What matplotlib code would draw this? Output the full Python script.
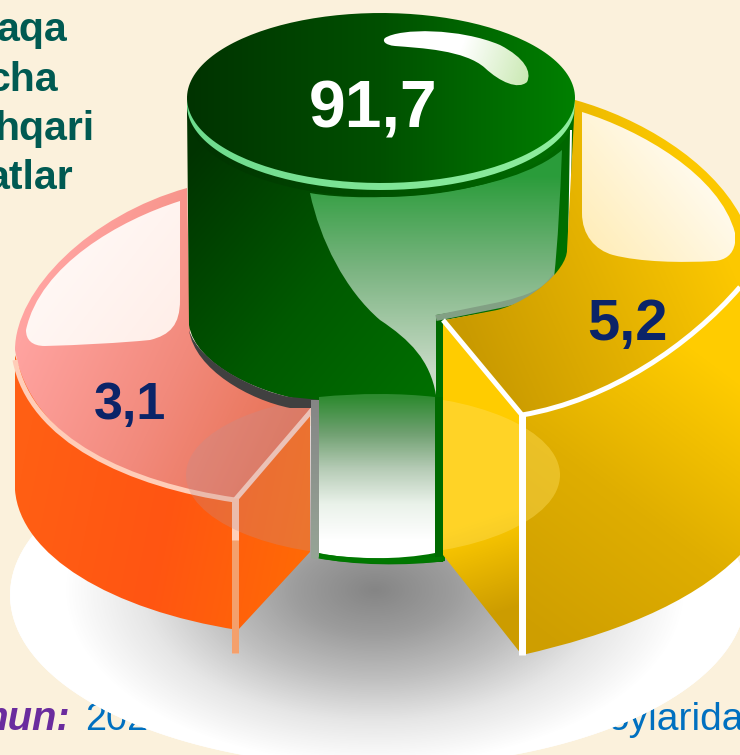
import numpy as np
import matplotlib
matplotlib.use('Agg')
import matplotlib.pyplot as plt
from matplotlib.path import Path
from matplotlib.patches import PathPatch, Ellipse, Rectangle
from matplotlib.colors import LinearSegmentedColormap

plt.rcParams['font.family'] = ['Liberation Sans', 'DejaVu Sans']

values = [91.7, 5.2, 3.1]
value_colors = ['white', '#0B2468', '#0B2468']
title_lines = ['aqa', 'cha', 'hqari', 'atlar']
source_label = 'mun:'
source_left = '2023'
source_right = 'oylarida'

W, H = 740, 755
X, Y = np.meshgrid(np.arange(W) + 0.5, np.arange(H) + 0.5)

fig = plt.figure(figsize=(W/100, H/100), dpi=100)
ax = fig.add_axes([0, 0, 1, 1])
ax.set_axis_off()
fig.patch.set_facecolor('#FBF1DC')


def svg(s):
    # tiny M/L/C/Z parser, the shapes are easier to write this way
    codes = {'M': [Path.MOVETO], 'L': [Path.LINETO], 'C': [Path.CURVE4]*3}
    v, c = [], []
    tok = s.split()
    i = 0
    while i < len(tok):
        k = tok[i]
        i += 1
        if k == 'Z':
            v.append(v[0])
            c.append(Path.CLOSEPOLY)
            continue
        for code in codes[k]:
            v.append((float(tok[i]), float(tok[i+1])))
            c.append(code)
            i += 2
    return Path(v, c)


def show(t, path, stops, z):
    cmap = LinearSegmentedColormap.from_list('g', stops)
    im = ax.imshow(t, extent=(0, W, H, 0), cmap=cmap, vmin=0, vmax=1,
                   aspect='auto', zorder=z, interpolation='bilinear')
    im.set_clip_path(PathPatch(path, transform=ax.transData))


def linear(path, stops, p0, p1, z):
    dx, dy = p1[0]-p0[0], p1[1]-p0[1]
    t = ((X-p0[0])*dx + (Y-p0[1])*dy)/(dx*dx + dy*dy)
    show(np.clip(t, 0, 1), path, stops, z)


def radial(path, stops, c, rx, ry, z):
    t = np.sqrt(((X-c[0])/rx)**2 + ((Y-c[1])/ry)**2)
    show(np.clip(t, 0, 1), path, stops, z)


def ell(cx, cy, rx, ry):
    th = np.linspace(0, 2*np.pi, 200)
    return Path(np.c_[cx + rx*np.cos(th), cy + ry*np.sin(th)])


def line(s, color, lw, z):
    ax.add_patch(PathPatch(svg(s), fc='none', ec=color, lw=lw*0.72, zorder=z,
                           capstyle='butt', joinstyle='miter'))


def px(size):
    return size*0.72


def label(x, base, i, size):
    ax.text(x, base, ('%.1f' % values[i]).replace('.', ','), ha='center', va='baseline',
            color=value_colors[i], fontweight='bold', fontsize=px(size), zorder=20)


# cut off text behind everything
for s, xr, yb in zip(title_lines, [68, 58, 94, 73], [41, 91, 139.5, 189]):
    ax.text(xr, yb, s, ha='right', va='baseline', color='#005A52',
            fontweight='bold', fontsize=px(41), zorder=1)
ax.text(70, 730, source_label, ha='right', va='baseline', color='#6A2C9E',
        fontweight='bold', fontstyle='italic', fontsize=px(40), zorder=1)
ax.text(85, 730, source_left, ha='left', va='baseline', color='#0070C0',
        fontsize=px(38), zorder=1)
ax.text(744, 730, source_right, ha='right', va='baseline', color='#0070C0',
        fontsize=px(39), zorder=1)

# white floor and its shadow
floor = ell(378, 595, 368, 172)
ax.add_patch(PathPatch(floor, fc='white', ec='none', zorder=2))
radial(floor, ['#858585', '#9C9C9C', '#BEBEBE', '#E6E6E6', '#FFFFFF'], (375, 590), 310, 175, 3)

# orange slice
orange_wall = svg('M 15 355 L 15 490 C 20 555 110 610 238 630 L 310 552 L 310 410 L 235 500 C 130 485 40 430 15 355 Z')
linear(orange_wall, ['#FF5F14', '#FF5512', '#FF6A05'], (15, 500), (310, 560), 4)
pink_top = svg('M 15 350 C 15 290 90 215 187 188 L 190 330 C 190 360 250 395 315 403 L 235 500 C 130 485 30 440 15 350 Z')
linear(pink_top, ['#FFA3A0', '#F28A7C', '#E66E4E'], (20, 340), (300, 470), 5)
shine_p = svg('M 180 201 C 120 220 40 265 26 330 C 26 340 32 346 45 346 C 80 345 120 343 150 340 C 170 335 180 325 180 300 Z')
linear(shine_p, ['#FFFAF8', '#FFEEE8'], (40, 230), (180, 340), 6)
line('M 15 360 C 30 440 130 485 235 500', '#FFCDB8', 5, 7)
line('M 235 500 L 313 409', '#FFD8C8', 5, 7)
line('M 235 498 L 235 653', '#FFCFB8', 7, 7)
line('M 235 540 L 235 653', '#F4A06C', 7, 7.1)

# see-through ellipse, left part goes greyish pink, right part lifts the gold
sheen_l = Ellipse((373, 475), 374, 162, fc='#C09090', ec='none', alpha=0.3, zorder=7.5)
ax.add_patch(sheen_l)
sheen_l.set_clip_path(Rectangle((0, 0), 440, H, transform=ax.transData))

# green cylinder
body = svg('M 187 105 L 189 325 C 195 365 260 395 315 402 L 315 557 C 350 566 410 566 445 561 L 445 320 L 530 305 C 555 290 570 265 572 240 L 575 105 Z')
linear(body, ['#003300', '#005A00', '#007400'], (190, 150), (480, 390), 8)
shade = svg('M 189 330 C 200 365 260 392 290 397 L 320 400 L 320 408 L 290 408 C 250 400 195 370 189 330 Z')
ax.add_patch(PathPatch(shade, fc='#404040', ec='none', zorder=8.5))
refl = svg('M 310 193 C 370 204 510 195 562 150 C 560 200 558 240 554 278 C 545 290 525 300 510 303 L 436 315 L 436 395 C 430 360 410 340 380 320 C 345 290 320 240 310 193 Z')
linear(refl, ['#2A9C3A', '#7DB583', '#C8DAC6'], (0, 175), (0, 370), 9)
line('M 555 276 C 545 292 530 298 500 305 L 436 318', '#82A084', 6, 9.5)
band = ell(381, 112, 194, 85)
linear(band, ['#003000', '#005000', '#007000'], (187, 0), (575, 0), 9.8)
rim = ell(381, 105, 194, 85)
linear(rim, ['#6EDC8E', '#90EE9F'], (187, 0), (575, 0), 10)
top = ell(381, 98, 194, 85)
linear(top, ['#003300', '#005000', '#008000'], (187, 0), (575, 0), 11)
blob = svg('M 385 38 C 400 28 460 28 500 45 C 525 58 532 72 527 82 C 518 90 500 82 485 68 C 465 50 420 48 395 46 C 385 45 382 41 385 38 Z')
linear(blob, ['#FFFFFF', '#FFFFFF', '#C8E8B0'], (385, 35), (530, 85), 12)
line('M 571 130 L 569 252', 'white', 2, 12)

# yellow slice
y_wall = svg('M 522 415 C 610 400 690 345 740 287 L 740 555 C 690 605 610 635 522 655 Z')
linear(y_wall, ['#CE9E00', '#DFAE00', '#FFCC00'], (540, 640), (735, 380), 13)
y_cut = svg('M 443 320 L 522 415 L 522 655 L 443 555 Z')
linear(y_cut, ['#FFCC00', '#FFCC00', '#CC9C00'], (450, 430), (510, 610), 13)
y_top = svg('M 575 100 C 640 118 710 160 740 215 L 740 287 C 690 345 610 400 522 415 L 445 320 L 497 310 C 530 302 567 270 567 250 Z')
linear(y_top, ['#C99A00', '#E2B000', '#FCC800'], (470, 350), (720, 240), 14)
shine_y = svg('M 582 112 C 640 130 720 175 735 233 L 735 243 C 733 255 725 260 715 261 C 680 263 640 262 613 255 C 595 250 582 235 582 213 Z')
linear(shine_y, ['#FFEDB8', '#FFFBF0'], (590, 250), (700, 160), 15)
line('M 443 320 L 522 415', 'white', 5, 16)
line('M 522 415 C 610 400 690 345 740 287', 'white', 5, 16)
line('M 522 413 L 522 655', 'white', 7, 16)

sheen_r = Ellipse((373, 475), 374, 162, fc='#FFE060', ec='none', alpha=0.4, zorder=15.5)
ax.add_patch(sheen_r)
sheen_r.set_clip_path(Rectangle((443, 0), W, H, transform=ax.transData))

# hole in the middle, sits above the sheen
win = svg('M 319 397 C 360 393 400 393 435 397 L 435 553 C 400 560 350 560 319 553 Z')
linear(win, ['#2E8B30', '#6FA070', '#B5CBB5', '#EAF2EA', '#FFFFFF'], (0, 397), (0, 540), 17)
linear(svg('M 311 400 L 319 400 L 319 560 L 311 558 Z'), ['#858585', '#96A596'], (0, 398), (0, 560), 17)
line('M 439 397 L 439 562', '#006A00', 8, 17)
line('M 319 556 C 350 562 410 562 443 559', '#007800', 5, 17)

label(373, 127, 0, 66)
label(627, 340, 1, 58)
label(130, 419, 2, 52)

ax.set_xlim(0, W)
ax.set_ylim(H, 0)
fig.savefig('out.png', dpi=100, facecolor=fig.get_facecolor())
